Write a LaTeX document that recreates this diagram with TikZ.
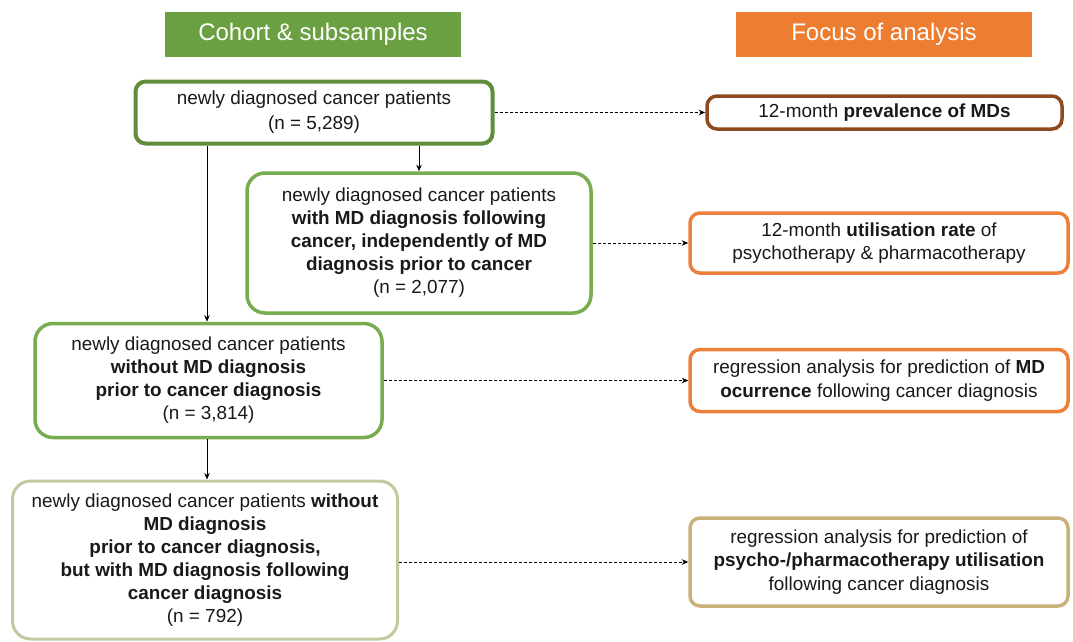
\documentclass[tikz,border=0pt]{standalone}
\usepackage{fontspec}
\setmainfont{Liberation Sans}
\usetikzlibrary{arrows.meta}
\definecolor{hdrgreen}{RGB}{106,160,66}
\definecolor{hdrorange}{RGB}{237,125,49}
\definecolor{topgreen}{RGB}{96,140,60}
\definecolor{midgreen}{RGB}{120,172,80}
\definecolor{paleolive}{RGB}{196,200,158}
\definecolor{brownedge}{RGB}{142,74,30}
\definecolor{orangeedge}{RGB}{236,128,58}
\definecolor{tanedge}{RGB}{200,178,122}
\definecolor{txt}{RGB}{25,25,25}
\begin{document}
\begin{tikzpicture}[x=1pt,y=-1pt,
  header/.style={draw=none,text=white,inner sep=0pt,font=\fontsize{24}{28}\selectfont},
  cohort/.style={draw,fill=white,rounded corners=18pt,line width=3.5pt,inner sep=0pt,
    align=center,text=txt,font=\fontsize{18.9}{23}\selectfont},
  focus/.style={draw,fill=white,rounded corners=10pt,line width=3.5pt,inner sep=0pt,
    align=center,text=txt,font=\fontsize{18.9}{23.5}\selectfont},
  flow/.style={line width=0.8pt,-{Stealth[length=6.5pt,width=5.5pt]}},
  dasharrow/.style={line width=0.8pt,dash pattern=on 3pt off 2pt,-{Stealth[length=6.5pt,width=5.5pt]}}
]
\useasboundingbox (0,0) rectangle (1073,642);

% column headers
\node[header,fill=hdrgreen,minimum width=296pt,minimum height=45pt] (hc) at (313,34.5) {Cohort \& subsamples};
\node[header,fill=hdrorange,minimum width=296pt,minimum height=45pt] (hf) at (884,34.5) {Focus of analysis};

% cohort and subsamples
\node[cohort,draw=topgreen,line width=4pt,rounded corners=10pt,minimum width=357pt,minimum height=62pt,
  font=\fontsize{18.9}{25}\selectfont] (A) at (314,112.5)
  {newly diagnosed cancer patients\\(n = 5,289)};
\node[cohort,draw=midgreen,minimum width=344pt,minimum height=140pt] (B) at (419,243)
  {newly diagnosed cancer patients\\\textbf{with MD diagnosis following}\\\textbf{cancer, independently of MD}\\\textbf{diagnosis prior to cancer}\\(n = 2,077)};
\node[cohort,draw=midgreen,minimum width=347pt,minimum height=114pt] (C) at (208.5,380.5)
  {newly diagnosed cancer patients\\\textbf{without MD diagnosis}\\\textbf{prior to cancer diagnosis}\\(n = 3,814)};
\node[cohort,draw=paleolive,line width=3pt,minimum width=385pt,minimum height=158pt] (D) at (205,560)
  {newly diagnosed cancer patients \textbf{without}\\\textbf{MD diagnosis}\\\textbf{prior to cancer diagnosis,}\\\textbf{but with MD diagnosis following}\\\textbf{cancer diagnosis}\\(n = 792)};

% focus of analysis
\node[focus,draw=brownedge,minimum width=355pt,minimum height=33pt] (R1) at (884.5,112.5)
  {12-month \textbf{prevalence of MDs}};
\node[focus,draw=orangeedge,minimum width=378pt,minimum height=60pt] (R2) at (879,243)
  {12-month \textbf{utilisation rate} of\\psychotherapy \& pharmacotherapy};
\node[focus,draw=orangeedge,minimum width=378pt,minimum height=62pt] (R3) at (879,380.5)
  {regression analysis for prediction of \textbf{MD}\\\textbf{ocurrence} following cancer diagnosis};
\node[focus,draw=tanedge,minimum width=378pt,minimum height=88pt] (R4) at (879,562)
  {regression analysis for prediction of\\\textbf{psycho-/pharmacotherapy utilisation}\\following cancer diagnosis};

% solid arrows between subsamples
\draw[flow] (A.south -| 207,0) -- (C.north -| 207,0);
\draw[flow] (A.south -| B.north) -- (B.north);
\draw[flow] (C.south -| 207,0) -- (D.north -| 207,0);

% dashed arrows to analyses
\draw[dasharrow] (A.east) -- (R1.west);
\draw[dasharrow] (B.east) -- (R2.west);
\draw[dasharrow] (C.east) -- (R3.west);
\draw[dasharrow] (R4.west -| D.east) -- (R4.west);
\end{tikzpicture}
\end{document}
